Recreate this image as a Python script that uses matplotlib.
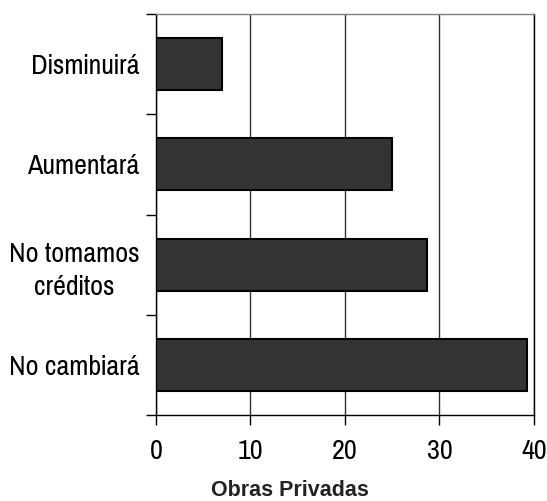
import numpy as np
import matplotlib.pyplot as plt
from matplotlib.ticker import FixedLocator

categories = ['Disminuirá', 'Aumentará', 'No tomamos\ncréditos', 'No cambiará']
values = [7.0, 25.0, 28.7, 39.3]
xticks = [0, 10, 20, 30, 40]

plt.rcParams['font.family'] = ['Pragati Narrow', 'Liberation Sans', 'DejaVu Sans']

fig = plt.figure(figsize=(5.47, 5.01), dpi=100)
ax = fig.add_axes([0.2852, 0.1717, 0.691, 0.8003])

y = np.arange(len(categories))
ax.barh(y, values, height=0.52, color='#333333', edgecolor='black', linewidth=1.5, zorder=3)

ax.set_xlim(0, 40)
ax.set_ylim(len(categories) - 0.5, -0.5)
ax.set_xticks(xticks)
ax.set_xticklabels([str(t) for t in xticks], fontsize=22)
ax.set_yticks(y)
ax.set_yticklabels(categories, fontsize=22, ha='right', multialignment='center', linespacing=1.4)
ax.yaxis.set_minor_locator(FixedLocator(np.arange(-0.5, len(categories), 1)))
ax.tick_params(axis='y', which='major', length=0, pad=12)
ax.tick_params(axis='y', which='minor', length=7, width=1, color='black')
ax.tick_params(axis='x', which='major', length=7, width=1, pad=10)

ax.grid(axis='x', color='#333333', linewidth=1, zorder=1)
ax.spines['top'].set_color('#808080')
ax.spines['right'].set_color('black')
for s in ax.spines.values():
    s.set_linewidth(1)

fig.text(290 / 547, 0.02, 'Obras Privadas', family='Liberation Sans', fontweight='bold',
         fontsize=15.5, ha='center', va='center', color='#222222')

fig.savefig('out.png', dpi=100)
